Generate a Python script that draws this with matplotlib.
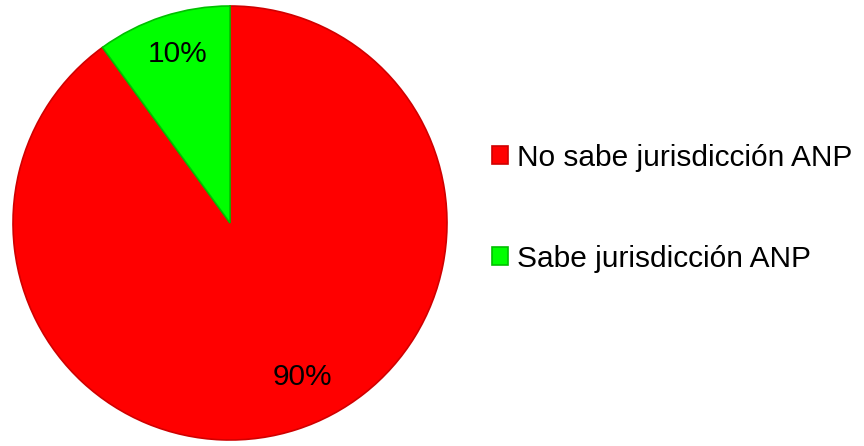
import matplotlib
matplotlib.use("Agg")
import matplotlib.pyplot as plt

labels = ["No sabe jurisdicción ANP", "Sabe jurisdicción ANP"]
values = [90, 10]
colors = ["#ff0000", "#00ff00"]
edges = ["#d00000", "#00c000"]

plt.rcParams["font.family"] = ["Liberation Sans", "DejaVu Sans"]

fig = plt.figure(figsize=(8.64, 4.46), dpi=100)
# pie centre ~ (230, 223) px, radius ~ 217 px
ax = fig.add_axes([13 / 864, (446 - 223 - 217) / 446, 434 / 864, 434 / 446])

wedges, texts, autotexts = ax.pie(
    values, colors=colors, startangle=90, counterclock=False,
    autopct="%d%%", pctdistance=0.8, radius=1.0,
    wedgeprops=dict(linewidth=1.2),
    textprops=dict(fontsize=21.5, color="black"),
)
for w, ec in zip(wedges, edges):
    w.set_edgecolor(ec)

# nudge the labels to where they sit in the original
autotexts[0].set_position((0.335, -0.71))
autotexts[1].set_position((-0.24, 0.78))
ax.set_xlim(-1.0, 1.0)
ax.set_ylim(-1.0, 1.0)

fig.legend(wedges, labels, loc="center left",
           bbox_to_anchor=(0.569, 0.533), frameon=False,
           fontsize=21.5, handlelength=0.55, handleheight=0.55,
           handletextpad=0.3, labelspacing=2.45,
           borderpad=0, borderaxespad=0)

fig.savefig("out.png", dpi=100)
